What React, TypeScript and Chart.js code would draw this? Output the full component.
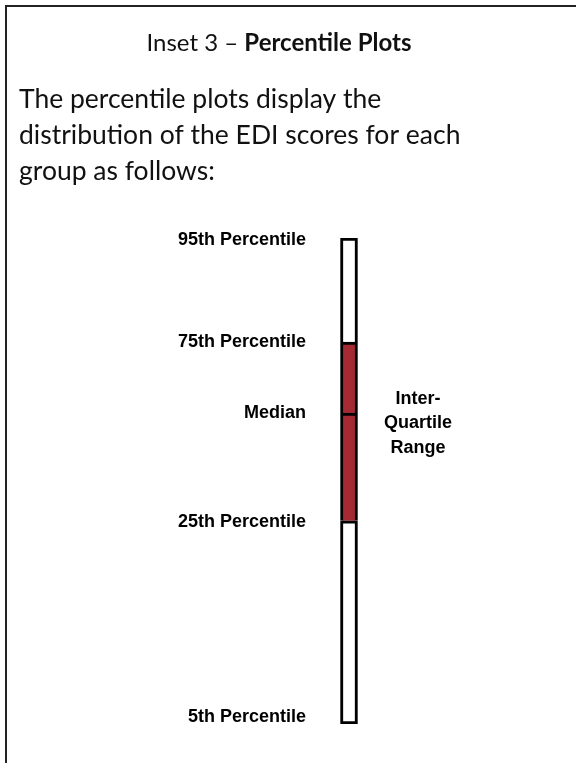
import React, { useEffect, useRef } from "react";
import { Chart, registerables } from "chart.js";

Chart.register(...registerables);

const categories = [""];
const percentileNames = ["5th Percentile", "25th Percentile", "Median", "75th Percentile", "95th Percentile"];
const percentileValues = [0, 4.18, 6.4, 7.86, 10];
const segmentColors = ["#ffffff", "#a62a33", "#a62a33", "#ffffff"];
const titleRegular = "Inset 3 \u2013 ";
const titleBold = "Percentile Plots";
const paragraphLines = [
  "The percentile plots display the",
  "distribution of the EDI scores for each",
  "group as follows:",
];
const iqrLines = ["Inter-", "Quartile", "Range"];

const HAND = "'Comic Sans MS', 'Lato', sans-serif";
const LABEL = "bold 18px 'Liberation Sans', Arial, sans-serif";

const textPlugin = {
  id: "insetText",
  afterDraw(chart: any) {
    const ctx = chart.ctx;
    const y = chart.scales.y;
    const x = chart.scales.x;
    const cx = x.getPixelForValue(0);
    ctx.save();
    // title
    ctx.fillStyle = "#111";
    ctx.textBaseline = "middle";
    ctx.font = `24px ${HAND}`;
    const w1 = ctx.measureText(titleRegular).width;
    ctx.font = `bold 24px ${HAND}`;
    const w2 = ctx.measureText(titleBold).width;
    const start = 279 - (w1 + w2) / 2;
    ctx.textAlign = "left";
    ctx.font = `24px ${HAND}`;
    ctx.fillText(titleRegular, start, 43);
    ctx.font = `bold 24px ${HAND}`;
    ctx.fillText(titleBold, start + w1, 43);
    // paragraph
    ctx.font = `26.5px ${HAND}`;
    paragraphLines.forEach((line, i) => {
      ctx.fillText(line, 19, 99 + i * 36);
    });
    // percentile labels
    ctx.font = LABEL;
    ctx.textAlign = "right";
    ctx.fillStyle = "#000";
    const offsets = [-7, 1, 0, 0, 2];
    percentileNames.forEach((name, i) => {
      ctx.fillText(name, cx - 43, y.getPixelForValue(percentileValues[i]) + offsets[i]);
    });
    // IQR label
    ctx.textAlign = "center";
    const mid = y.getPixelForValue((percentileValues[1] + percentileValues[3]) / 2) - 8;
    iqrLines.forEach((line, i) => {
      ctx.fillText(line, cx + 69, mid + (i - 1) * 24.5);
    });
    ctx.restore();
  },
};

export default function App() {
  const ref = useRef<HTMLCanvasElement | null>(null);
  useEffect(() => {
    if (!ref.current) return;
    const datasets = segmentColors.map((color, i) => ({
      data: [[percentileValues[i], percentileValues[i + 1]]] as any,
      backgroundColor: color,
      borderColor: "#000",
      borderWidth: { top: 3, bottom: i === 0 ? 3 : 0, left: 3, right: 3 },
      borderSkipped: false,
      grouped: false,
      barThickness: 17,
    }));
    const chart = new Chart(ref.current, {
      type: "bar",
      data: { labels: categories, datasets },
      options: {
        responsive: false,
        animation: false,
        layout: { padding: { top: 238, bottom: 39, left: 300, right: 178 } },
        plugins: { legend: { display: false }, tooltip: { enabled: false } },
        scales: {
          x: { display: false },
          y: { display: false, min: 0, max: 10 },
        },
      },
      plugins: [textPlugin],
    });
    return () => chart.destroy();
  }, []);
  return (
    <div style={{ position: "absolute", left: 0, top: 0, width: 576, height: 763, background: "#fff", overflow: "hidden" }}>
      <div
        style={{
          position: "absolute",
          left: 5,
          top: 5,
          width: 571,
          height: 758,
          borderTop: "2px solid #222",
          borderLeft: "2px solid #222",
          boxSizing: "border-box",
        }}
      />
      <canvas ref={ref} width={576} height={763} style={{ position: "absolute", left: 0, top: 0 }} />
    </div>
  );
}
